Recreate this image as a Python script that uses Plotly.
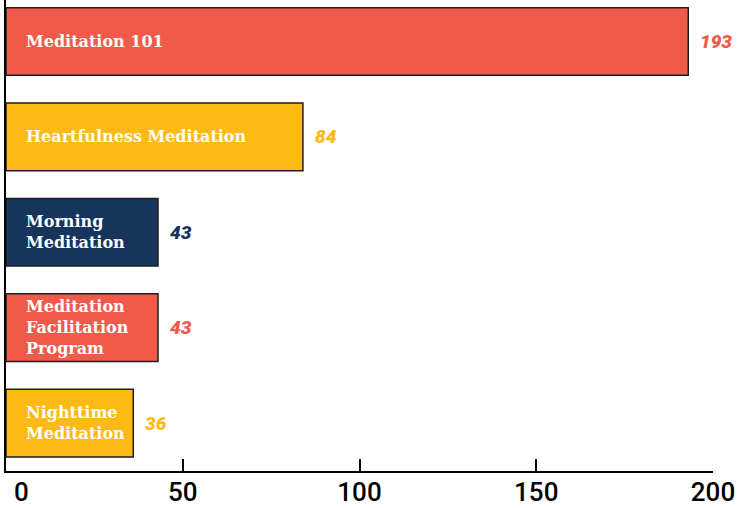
import plotly.graph_objects as go

categories = ["Meditation 101", "Heartfulness Meditation", "Morning<br>Meditation",
              "Meditation<br>Facilitation<br>Program", "Nighttime<br>Meditation"]
values = [193, 84, 43, 43, 36]
colors = ["#EF5A4A", "#FDBA17", "#16345C", "#EF5A4A", "#FDBA17"]
tick_vals = [0, 50, 100, 150, 200]
tick_text = ["0", "50", "100", "150", "200"]

ids = list(range(len(categories)))
tick_font = dict(family="Roboto", size=26, color="black", weight=500)

fig = go.Figure()
fig.add_trace(go.Bar(
    x=values, y=ids, orientation="h",
    marker=dict(color=colors, line=dict(color="#1e1e1e", width=1.5)),
    width=0.71, hoverinfo="skip",
))

for i, (c, v, col) in enumerate(zip(categories, values, colors)):
    fig.add_annotation(x=0, y=i, xref="x", yref="y", text=c, showarrow=False,
                       xanchor="left", yanchor="middle", xshift=18, align="left",
                       font=dict(family="DejaVu Serif", size=16, color="white", weight="bold"))
    fig.add_annotation(x=v, y=i, xref="x", yref="y", text=str(v), showarrow=False,
                       xanchor="left", yanchor="middle", xshift=10,
                       font=dict(family="Roboto", size=19, color=col, weight=900, style="italic"))

# first tick label nudged right so it stays inside the page (as in the reference)
fig.add_annotation(x=tick_vals[0], y=0, xref="x", yref="paper", text=tick_text[0],
                   showarrow=False, xanchor="left", yanchor="middle", xshift=6, yshift=-21,
                   font=tick_font)

fig.update_layout(
    width=747, height=508,
    margin=dict(l=6, r=34, t=0, b=37, pad=0, autoexpand=False),
    paper_bgcolor="white", plot_bgcolor="white",
    showlegend=False,
    xaxis=dict(range=[0, 200], tickvals=tick_vals, ticktext=[""] + tick_text[1:], automargin=False,
               showgrid=False, zeroline=False, showline=True, linecolor="black", linewidth=2,
               ticks="inside", ticklen=12, tickwidth=2, tickcolor="black",
               tickfont=tick_font,
               ticklabelstandoff=-3, ticklabeloverflow="allow"),
    yaxis=dict(range=[4.503, -0.435], showticklabels=False, showgrid=False, zeroline=False,
               automargin=False,
               showline=True, linecolor="black", linewidth=2, ticks=""),
)

fig.write_html("out.html", config={"displayModeBar": False},
               post_script="document.body.style.margin='0';")
